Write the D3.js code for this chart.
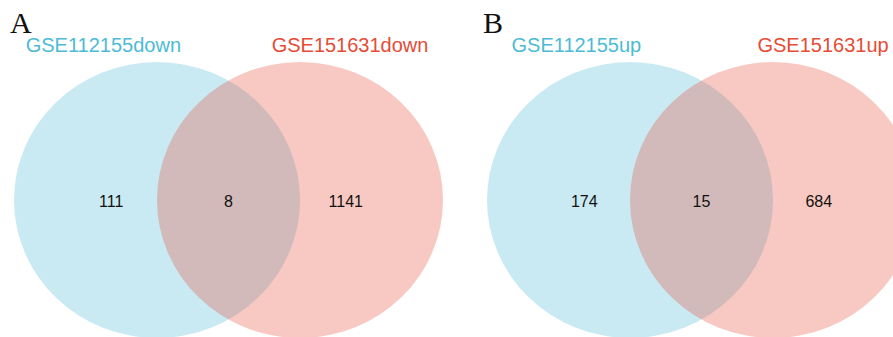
<!DOCTYPE html>
<html>
<head>
<meta charset="utf-8">
<script src="https://cdn.jsdelivr.net/npm/d3@7"></script>
<style>
  body { margin: 0; background: #fff; }
  svg { display: block; }
</style>
</head>
<body>
<svg class="venn" width="893" height="337"></svg>
<script>
// data
const panels = ["A", "B"]
const leftSets = ["GSE112155down", "GSE112155up"]
const rightSets = ["GSE151631down", "GSE151631up"]
const leftOnly = [111, 174]
const shared = [8, 15]
const rightOnly = [1141, 684]

const blue = "#4DBBD5"
const red = "#E64B35"

const svg = d3.select("svg.venn")

// one panel every 473px
const panelX = d3.scaleLinear()
	.domain([0, 1])
	.range([0, 473])

// local x inside a panel: -1 = left circle centre, 1 = right circle centre
const localX = d3.scaleLinear()
	.domain([-1, 1])
	.range([157, 300])

const cy = 200
const rx = 143
const ry = 138

const groups = svg
	.selectAll("g")
	.data(panels)
	.enter()
	.append("g")
	.attr("transform", (d, i) => { return "translate(" + panelX(i) + ", 0)" })

// left set
groups
	.append("ellipse")
	.attr("cx", localX(-1))
	.attr("cy", cy)
	.attr("rx", rx)
	.attr("ry", ry)
	.attr("fill", blue)
	.attr("fill-opacity", 0.3)

// right set
groups
	.append("ellipse")
	.attr("cx", localX(1))
	.attr("cy", cy)
	.attr("rx", rx)
	.attr("ry", ry)
	.attr("fill", red)
	.attr("fill-opacity", 0.3)

// panel letters
groups
	.append("text")
	.attr("x", 10)
	.attr("y", 33)
	.style("font-family", "'Liberation Serif', 'Times New Roman', serif")
	.style("font-size", "30px")
	.attr("fill", "#111")
	.text(d => d)

// set names
groups
	.append("text")
	.attr("x", localX(-1.75))
	.attr("y", 52)
	.attr("text-anchor", "middle")
	.style("font-family", "'Liberation Sans', Arial, sans-serif")
	.style("font-size", "20px")
	.attr("fill", blue)
	.text((d, i) => leftSets[i])

groups
	.append("text")
	.attr("x", localX(1.7))
	.attr("y", 52)
	.attr("text-anchor", "middle")
	.style("font-family", "'Liberation Sans', Arial, sans-serif")
	.style("font-size", "20px")
	.attr("fill", red)
	.text((d, i) => rightSets[i])

// counts
const counts = [
	{ pos: -1.64, vals: leftOnly },
	{ pos: 0, vals: shared },
	{ pos: 1.64, vals: rightOnly }
]

counts.forEach(c => {
	groups
		.append("text")
		.attr("x", localX(c.pos))
		.attr("y", 207)
		.attr("text-anchor", "middle")
		.style("font-family", "'Liberation Sans', Arial, sans-serif")
		.style("font-size", "16px")
		.attr("fill", "#111")
		.text((d, i) => c.vals[i])
})
</script>
</body>
</html>
